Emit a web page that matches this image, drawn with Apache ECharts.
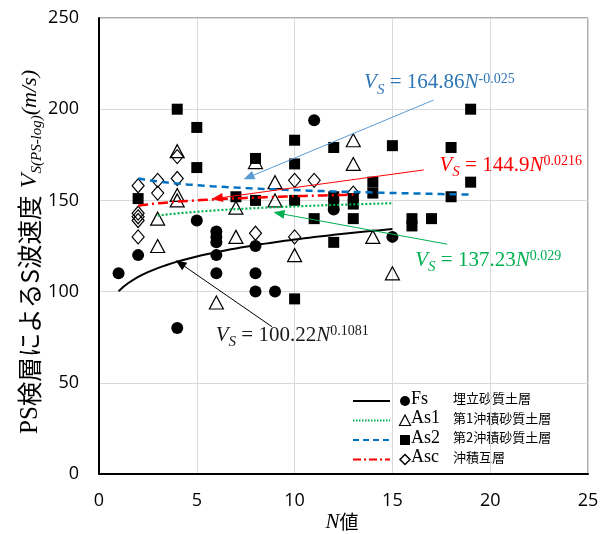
<!DOCTYPE html>
<html>
<head>
<meta charset="utf-8">
<script src="https://cdn.jsdelivr.net/npm/echarts@6/dist/echarts.min.js"></script>
<style>
  html, body { margin: 0; padding: 0; background: #fff; }
  #chart { width: 607px; height: 534px; }
</style>
</head>
<body>
<div id="chart"></div>
<script>
// Fs: 埋立砂質土層 (N値, Vs)
const fsN  = [1, 2, 4, 5, 6, 6, 6, 6, 6, 8, 8, 8, 9, 11, 12, 15];
const fsVs = [110, 120, 80, 139, 133, 130, 127, 120, 110, 125, 110, 100, 100, 194, 145, 130];

// As1: 第1沖積砂質土層
const as1N  = [3, 3, 4, 4, 4, 6, 7, 7, 8, 9, 9, 10, 13, 13, 14, 15];
const as1Vs = [140, 125, 153, 150, 177, 94, 146, 130, 171, 160, 150, 120, 183, 170, 130, 110];

// As2: 第2沖積砂質土層
const as2N  = [2, 4, 5, 5, 7, 8, 8, 10, 10, 10, 10, 11, 12, 12, 12, 12, 13, 13, 13, 14, 14, 15, 16, 16, 17, 18, 18, 19, 19];
const as2Vs = [151, 200, 190, 168, 152, 173, 150, 183, 170, 150, 96, 140, 179, 152, 148, 127, 151, 148, 140, 160, 154, 180, 140, 136, 140, 179, 152, 200, 160];

// Asc: 沖積互層
const ascN  = [2, 2, 2, 2, 2, 3, 3, 4, 4, 8, 10, 10, 11, 13];
const ascVs = [158, 143, 141, 139, 130, 161, 154, 174, 162, 132, 161, 130, 161, 154];

// Power-law fits Vs = a * N^b and the N range each one covers
const fitA = [100.22, 137.23, 164.86, 144.9];
const fitB = [0.1081, 0.029, -0.025, 0.0216];
const fitFrom = [1, 3, 2, 2];
const fitTo   = [15, 15, 19, 13];

// Axis ticks
const xTicks = [0, 5, 10, 15, 20, 25];
const yTicks = [0, 50, 100, 150, 200, 250];

const pairs = (xs, ys) => xs.map((x, i) => [x, ys[i]]);
function fitCurve(k) {
  const pts = [];
  const step = 0.25;
  for (let n = fitFrom[k]; n <= fitTo[k] + 1e-9; n += step) {
    pts.push([n, fitA[k] * Math.pow(n, fitB[k])]);
  }
  return pts;
}

const SERIF = '"Liberation Serif", "Times New Roman", serif';
const SANS = '"Noto Sans CJK JP", "Noto Sans", sans-serif';
const TICK = '"Open Sans", "Noto Sans", sans-serif';

const fitColors = ['#000000', '#00B050', '#0070C0', '#FF0000'];
const fitTypes = ['solid', [2, 2], [7, 5], [10, 4, 2, 4]];
const fitWidths = [2, 2.2, 2.5, 2.5];

function eqRich(color) {
  return {
    v: { fontFamily: SERIF, fontStyle: 'italic', fontSize: 21, color, lineHeight: 24, verticalAlign: 'middle' },
    s: { fontFamily: SERIF, fontStyle: 'italic', fontSize: 15, color, lineHeight: 15, verticalAlign: 'middle', padding: [14, 0, 0, 0] },
    t: { fontFamily: SERIF, fontSize: 21, color, lineHeight: 24, verticalAlign: 'middle' },
    n: { fontFamily: SERIF, fontStyle: 'italic', fontSize: 21, color, lineHeight: 24, verticalAlign: 'middle' },
    p: { fontFamily: SERIF, fontSize: 14, color, lineHeight: 14, verticalAlign: 'middle', padding: [0, 0, 8, 0] }
  };
}
function eqText(a, b) {
  return '{v|V}{s|S}{t| = ' + a + '}{n|N}{p|' + b + '}';
}

// Annotation arrows: [from label, to curve] in data coordinates
const arrowsFrom = [[17.1, 205], [16.6, 166.7], [17.8, 126], [8.85, 80.7]];
const arrowsTo   = [[7.65, 162.7], [6.05, 151.2], [9.2, 142.9], [4.15, 115.5]];
const arrowColors = ['#5B9BD5', '#FF0000', '#00B050', '#000000'];
const labelAt = [[17.4, 214.4], [21.05, 169.3], [19.9, 117.2], [9.88, 76.1]];
const labelColors = ['#2E75B6', '#FF0000', '#00B050', '#1a1a1a'];
const labelB = ['-0.025', '0.0216', '0.029', '0.1081'];
const labelA = ['164.86', '144.9', '137.23', '100.22'];

const chart = echarts.init(document.getElementById('chart'));

const series = [];
series.push({
  name: 'Fs', type: 'scatter', data: pairs(fsN, fsVs), symbol: 'circle', symbolSize: 12,
  itemStyle: { color: '#000', opacity: 1 }, z: 3
});
series.push({
  name: 'As1', type: 'scatter', data: pairs(as1N, as1Vs), symbol: 'triangle', symbolSize: [14, 13],
  itemStyle: { color: 'rgba(255,255,255,0)', borderColor: '#000', borderWidth: 1.2, opacity: 1 }, z: 3
});
series.push({
  name: 'As2', type: 'scatter', data: pairs(as2N, as2Vs), symbol: 'rect', symbolSize: 11,
  itemStyle: { color: '#000', opacity: 1 }, z: 3
});
series.push({
  name: 'Asc', type: 'scatter', data: pairs(ascN, ascVs), symbol: 'diamond', symbolSize: [12, 14],
  itemStyle: { color: 'rgba(255,255,255,0)', borderColor: '#000', borderWidth: 1.2, opacity: 1 }, z: 3
});
for (let k = 0; k < 4; k++) {
  series.push({
    type: 'line', data: fitCurve(k), showSymbol: false, symbol: 'none', smooth: false,
    lineStyle: { color: fitColors[k], width: fitWidths[k], type: fitTypes[k] }, z: 4, silent: true
  });
}
// arrows and equation labels
series.push({
  type: 'line', data: [], silent: true, z: 5,
  markLine: {
    silent: true, symbol: ['none', 'triangle'], symbolSize: [9, 11],
    label: { show: false },
    data: arrowsFrom.map((f, i) => [
      { coord: f, lineStyle: { color: arrowColors[i], width: 1, type: 'solid', opacity: 1 }, itemStyle: { color: arrowColors[i] } },
      { coord: arrowsTo[i] }
    ])
  }
});
series.push({
  type: 'scatter', silent: true, z: 6, symbolSize: 0,
  itemStyle: { opacity: 1 },
  data: labelAt.map((p, i) => ({
    value: p,
    label: {
      show: true, position: 'inside', align: 'center', verticalAlign: 'middle', opacity: 1,
      formatter: eqText(labelA[i], labelB[i]), rich: eqRich(labelColors[i])
    }
  }))
});

// legend drawn as graphic items
const legendY = [401, 420.5, 440, 459.5];
const legendNames = ['Fs', 'As1', 'As2', 'Asc'];
const legendJa = ['埋立砂質土層', '第1沖積砂質土層', '第2沖積砂質土層', '沖積互層'];
const graphics = [];
legendY.forEach((y, i) => {
  graphics.push({
    type: 'line', shape: { x1: 353, y1: y, x2: 390, y2: y },
    style: { stroke: fitColors[i], lineWidth: i === 0 ? 1.8 : 2, lineDash: i === 0 ? null : (i === 1 ? [1.5, 1.5] : (i === 2 ? [6, 4] : [8, 3, 2, 3])) }
  });
  graphics.push({
    type: 'text', left: 411, top: y - 11,
    style: { text: legendNames[i], font: '18px ' + SERIF, fill: '#000' }
  });
  graphics.push({
    type: 'text', left: 453, top: y - 9,
    style: { text: legendJa[i], font: '13px ' + SANS, fill: '#000' }
  });
});
graphics.push({ type: 'circle', shape: { cx: 405, cy: legendY[0], r: 5 }, style: { fill: '#000' } });
graphics.push({ type: 'polygon', shape: { points: [[405, legendY[1] - 5.5], [399.5, legendY[1] + 5], [410.5, legendY[1] + 5]] }, style: { fill: 'none', stroke: '#000', lineWidth: 1.2 } });
graphics.push({ type: 'rect', shape: { x: 400, y: legendY[2] - 5, width: 10, height: 10 }, style: { fill: '#000' } });
graphics.push({ type: 'polygon', shape: { points: [[405, legendY[3] - 5], [410, legendY[3]], [405, legendY[3] + 5], [400, legendY[3]]] }, style: { fill: 'none', stroke: '#000', lineWidth: 1.5 } });

// y-axis title, in two runs: the Japanese part reads up from the bottom,
// the symbol part ends at the top
graphics.push({
  type: 'text', x: 30, y: 434, rotation: Math.PI / 2,
  style: {
    text: '{a|PS}{j|検層によるS波速度}',
    align: 'left', verticalAlign: 'middle',
    rich: {
      a: { fontFamily: SERIF, fontSize: 25, lineHeight: 28, verticalAlign: 'middle', fill: '#000' },
      j: { fontFamily: SANS, fontSize: 24.5, lineHeight: 28, verticalAlign: 'middle', fill: '#000' }
    }
  }
});
graphics.push({
  type: 'text', x: 30, y: 70, rotation: Math.PI / 2,
  style: {
    text: '{v|V}{s|S(PS-log)}{m|(m/s)}',
    align: 'right', verticalAlign: 'middle',
    rich: {
      v: { fontFamily: SERIF, fontStyle: 'italic', fontSize: 24, lineHeight: 28, verticalAlign: 'middle', fill: '#000' },
      m: { fontFamily: SERIF, fontStyle: 'italic', fontSize: 22, lineHeight: 28, verticalAlign: 'middle', fill: '#000' },
      s: { fontFamily: SERIF, fontStyle: 'italic', fontSize: 15, lineHeight: 15, verticalAlign: 'middle', padding: [14, 0, 0, 0], fill: '#000' }
    }
  }
});
// x-axis title
graphics.push({
  type: 'text', x: 342, y: 522,
  style: {
    text: '{n|N}{j|値}', align: 'center', verticalAlign: 'middle',
    rich: {
      n: { fontFamily: SERIF, fontStyle: 'italic', fontSize: 21, fill: '#000' },
      j: { fontFamily: SANS, fontSize: 19, fill: '#000' }
    }
  }
});

chart.setOption({
  animation: false,
  grid: { left: 99, top: 18, width: 489, height: 456, show: true, borderColor: '#595959', borderWidth: 1 },
  xAxis: {
    type: 'value', min: xTicks[0], max: xTicks[xTicks.length - 1], interval: 5,
    axisLine: { show: true, onZero: false, lineStyle: { color: '#000', width: 2 } },
    axisTick: { show: false },
    axisLabel: { margin: 18, fontSize: 18, fontFamily: TICK, color: '#000' },
    splitLine: { show: true, lineStyle: { color: '#d9d9d9', width: 1 } }
  },
  yAxis: {
    type: 'value', min: yTicks[0], max: yTicks[yTicks.length - 1], interval: 50,
    axisLine: { show: true, onZero: false, lineStyle: { color: '#000', width: 2 } },
    axisTick: { show: false },
    axisLabel: { margin: 20, fontSize: 18, fontFamily: TICK, color: '#000' },
    splitLine: { show: true, lineStyle: { color: '#d9d9d9', width: 1 } }
  },
  series,
  graphic: graphics
});
</script>
</body>
</html>
